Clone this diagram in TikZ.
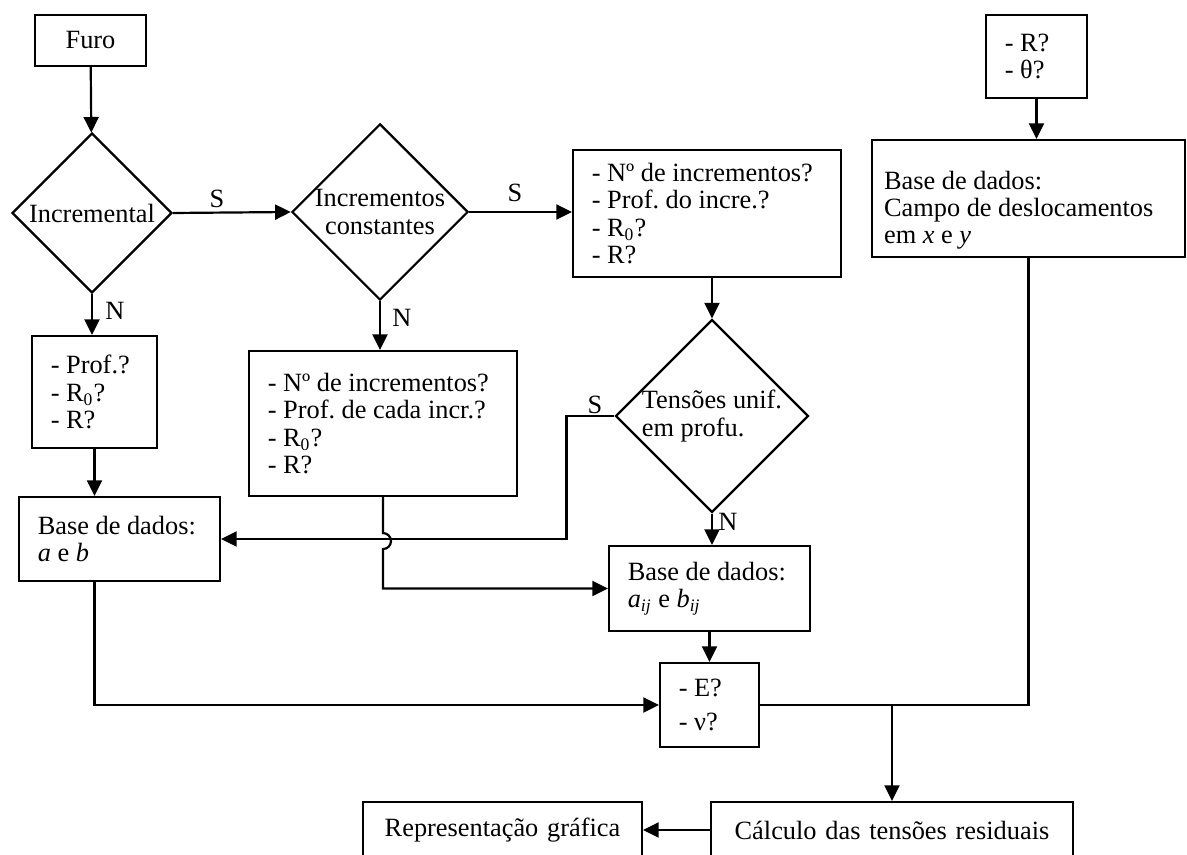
\documentclass[tikz,border=0pt]{standalone}
\usepackage{fontspec}
\setmainfont{Liberation Serif}
\usetikzlibrary{shapes.geometric,arrows.meta}

\tikzset{
  caixa/.style={draw, line width=1pt, align=flush left, inner xsep=0.3cm, inner ysep=2pt,
    font=\fontsize{12}{12.5}\selectfont},
  losango/.style={draw, diamond, line width=1pt, inner sep=0pt,
    font=\fontsize{12}{13}\selectfont},
  rotulo/.style={font=\fontsize{12}{12.5}\selectfont},
  linha/.style={line width=1pt},
  seta/.style={line width=1pt, -{Triangle[length=0.25cm,width=0.24cm]}}
}

\begin{document}
\frenchspacing
\begin{tikzpicture}[x=0.016cm, y=-0.016cm]
    % pevny ramecek (1 jednotka = 1 px)
    \useasboundingbox (0,0) rectangle (1187,855);

    % --- CAIXAS E LOSANGOS ---
    \node[caixa, align=center, text width=1.176cm, minimum height=0.816cm] (furo) at (90.5,40.5) {Furo};
    \node[losango, minimum width=2.56cm, minimum height=2.56cm] (incr) at (92,213) {Incremental};
    \node[losango, align=center, minimum width=2.816cm, minimum height=2.72cm] (cte) at (380,212) {Incrementos\\constantes};
    \node[caixa, text width=3.688cm, minimum height=2.032cm] (cteq) at (707,213.5)
        {- Nº de incrementos?\\- Prof. do incre.?\\- R\textsubscript{0}?\\- R?};
    \node[losango, align=flush left, minimum width=2.896cm, minimum height=2.88cm] (unif) at (712,416) {Tensões unif.\\em profu.};

    \node[caixa, text width=1.4cm, minimum height=1.792cm] (prof) at (94.5,392)
        {- Prof.?\\- R\textsubscript{0}?\\- R?};
    \node[caixa, text width=3.688cm, minimum height=2.32cm] (varq) at (383,423.5)
        {- Nº de incrementos?\\- Prof. de cada incr.?\\- R\textsubscript{0}?\\- R?};

    \node[caixa, text width=2.616cm, minimum height=1.344cm] (baseab) at (119.5,539)
        {Base de dados:\\\textit{a} e \textit{b}};
    \node[caixa, text width=2.616cm, minimum height=1.36cm] (baseaij) at (709.5,588.5)
        {Base de dados:\\\textit{a}\textsubscript{\textit{ij}} e \textit{b}\textsubscript{\textit{ij}}};
    \node[caixa, text width=0.984cm, minimum height=1.344cm] (elast) at (709.5,705)
        {- E?\\[3pt]- ν?};

    \node[caixa, text width=1.016cm, minimum height=1.328cm] (rtheta) at (1036.5,56.5) {- R?\\- θ?};
    \node[caixa, inner xsep=0.192cm, text width=4.624cm, minimum height=1.872cm] (campo) at (1028.5,198.5)
        {\rule{0pt}{19pt}Base de dados:\\Campo de deslocamentos\\em \textit{x} e \textit{y}};

    \node[caixa, align=center, text width=5.192cm, minimum height=0.896cm] (calc) at (892,830)
        {Cálculo das tensões residuais};
    \node[caixa, align=center, text width=3.864cm, minimum height=0.896cm] (repr) at (502.5,830)
        {Representação gráfica};

    % --- ROTULOS S / N ---
    \node[rotulo] (s1) at (217,199) {S};
    \node[rotulo] (n1) at (115,311) {N};
    \node[rotulo] (s2) at (515,193) {S};
    \node[rotulo] (n2) at (402,318) {N};
    \node[rotulo] (s3) at (595,405) {S};
    \node[rotulo] (n3) at (728,522) {N};

    % --- LIGACOES ---
    \draw[seta] (furo) -- (incr);
    \draw[seta] (incr.east) -- (cte.west);
    \draw[seta] (cte.east) -- (cte.east -| cteq.west);
    \draw[seta] (incr.south) -- (incr.south |- prof.north);
    \draw[seta] (cte.south) -- (cte.south |- varq.north);
    \draw[seta] (unif.north |- cteq.south) -- (unif.north);
    \draw[seta] (prof.south) -- (prof.south |- baseab.north);

    % S: volta para a e b
    \draw[seta] (unif.west) -- ++(-48,0) |- (baseab.east);
    % N: com salto por cima da linha S
    \draw[seta] (varq.south) -- ++(0,36) arc[start angle=-90, end angle=90, radius=8]
        -- (varq.south |- baseaij.west) -- (baseaij.west);
    \draw[seta] (unif.south) -- (unif.south |- baseaij.north);
    \draw[seta] (baseaij.south) -- (elast.north);
    \draw[seta] (prof.south |- baseab.south) |- (elast.west);

    \draw[seta] (rtheta.south) -- (rtheta.south |- campo.north);
    \draw[linha] (elast.east) -| (campo.south);
    \draw[seta] (calc.north |- elast.east) -- (calc.north);
    \draw[seta] (calc.west) -- (repr.east);

\end{tikzpicture}
\end{document}
